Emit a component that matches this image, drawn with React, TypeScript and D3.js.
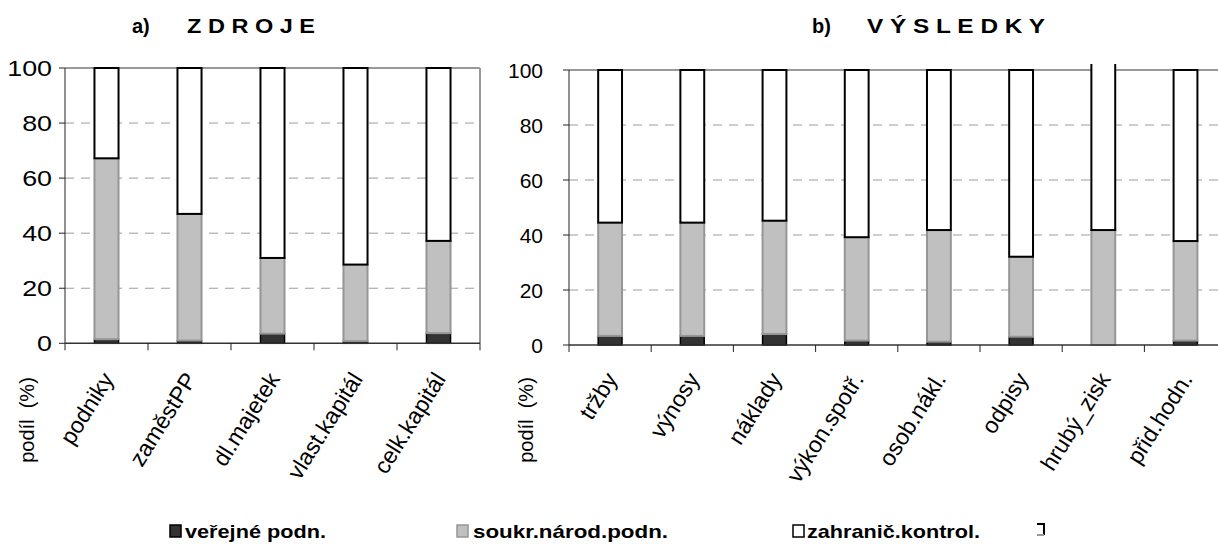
import * as d3 from "d3";
import type { ReactElement } from "react";

const LEFT_CATS = ["podniky", "zaměstPP", "dl.majetek", "vlast.kapitál", "celk.kapitál"];
const LEFT_VEREJNE = [1.5, 1.0, 3.5, 0.8, 3.7];
const LEFT_SOUKR = [65.7, 46.0, 27.5, 27.8, 33.5];
const LEFT_ZAHRAN = [32.8, 53.0, 69.0, 71.4, 62.8];

const RIGHT_CATS = ["tržby", "výnosy", "náklady", "výkon.spotř.", "osob.nákl.", "odpisy", "hrubý_zisk", "přid.hodn."];
const RIGHT_VEREJNE = [3.3, 3.3, 4.0, 1.6, 1.2, 3.0, 0, 1.6];
const RIGHT_SOUKR = [41.2, 41.2, 41.2, 37.6, 40.6, 29.1, 41.8, 36.2];
const RIGHT_ZAHRAN = [55.5, 55.5, 54.8, 60.8, 58.2, 67.9, 64.0, 62.2];

const Y_TICKS = [0, 20, 40, 60, 80, 100];
const SERIES_NAMES = ["veřejné podn.", "soukr.národ.podn.", "zahranič.kontrol."];

const FONT = "'Liberation Sans', Arial, sans-serif";
const SERIES_STYLE = [
  { fill: "#333333", stroke: "#000000", sw: 1.5 },
  { fill: "#c0c0c0", stroke: "#969696", sw: 2 },
  { fill: "#ffffff", stroke: "#000000", sw: 2 },
];

type PanelProps = {
  id: string;
  cats: string[];
  series: number[][];
  left: number;
  step: number;
  top: number;
  bottom: number;
  labelRight: number;
  labelSx: number;
  labelSize: number;
  yTitleX: number;
  rightBorder: boolean;
};

const Panel = (p: PanelProps): ReactElement => {
  const n = p.cats.length;
  const x = d3
    .scaleBand<string>()
    .domain(p.cats)
    .range([p.left, p.left + n * p.step])
    .paddingInner(0.71)
    .paddingOuter(0.355);
  const y = d3.scaleLinear().domain([0, 100]).range([p.bottom, p.top]);
  const right = p.left + n * p.step;

  const rows = p.cats.map((c, i) => {
    const o: Record<string, number | string> = { cat: c };
    p.series.forEach((s, k) => (o[`s${k}`] = s[i]));
    return o;
  });
  const stacked = d3
    .stack<Record<string, number | string>>()
    .keys(p.series.map((_, k) => `s${k}`))
    .value((d, key) => d[key] as number)(rows);

  // plot area reaches a little above the 100 line; taller bars are cut there
  const clipTop = y(100) - 6;

  return (
    <g>
      <defs>
        <clipPath id={`clip-${p.id}`}>
          <rect x={p.left} y={clipTop} width={right - p.left + 10} height={y(0) - clipTop + 4} />
        </clipPath>
      </defs>
      {/* grid */}
      {Y_TICKS.filter((t) => t > 0 && t < 100).map((t) => (
        <line key={t} x1={p.left} x2={right} y1={y(t)} y2={y(t)} stroke="#9c9c9c" strokeWidth={1} strokeDasharray="9 7" />
      ))}
      <line x1={p.left} x2={right} y1={y(100)} y2={y(100)} stroke="#999" strokeWidth={2} />
      {p.rightBorder && <line x1={right} x2={right} y1={y(100)} y2={y(0)} stroke="#999" strokeWidth={2} />}

      {/* bars */}
      <g clipPath={`url(#clip-${p.id})`}>
        {stacked.map((layer, k) => (
          <g key={k}>
            {layer.map((d, i) => {
              const h = y(d[0]) - y(d[1]);
              if (h <= 0) return null;
              const st = SERIES_STYLE[k];
              return (
                <rect
                  key={i}
                  x={x(p.cats[i])}
                  y={y(d[1])}
                  width={x.bandwidth()}
                  height={h}
                  fill={st.fill}
                  stroke={st.stroke}
                  strokeWidth={st.sw}
                />
              );
            })}
          </g>
        ))}
      </g>

      {/* axes */}
      <line x1={p.left} x2={p.left} y1={y(100)} y2={y(0)} stroke="#222" strokeWidth={1} />
      <line x1={p.left} x2={right} y1={y(0)} y2={y(0)} stroke="#333" strokeWidth={1.5} />
      {Y_TICKS.map((t) => (
        <g key={t}>
          <line x1={p.left - 6} x2={p.left} y1={y(t)} y2={y(t)} stroke="#222" strokeWidth={1} />
          <text
            transform={`translate(${p.labelRight},${y(t)}) scale(${p.labelSx},1)`}
            dy="0.36em"
            textAnchor="end"
            fontSize={p.labelSize}
            fontFamily={FONT}
            fill="#000"
          >
            {t}
          </text>
        </g>
      ))}
      {d3.range(n + 1).map((i) => (
        <line key={i} x1={p.left + i * p.step} x2={p.left + i * p.step} y1={y(0)} y2={y(0) + 7} stroke="#222" strokeWidth={1} />
      ))}
      {p.cats.map((c) => (
        <text
          key={c}
          transform={`translate(${(x(c) ?? 0) + x.bandwidth() / 2 + 8},379) rotate(-58)`}
          textAnchor="end"
          fontSize={23}
          fontFamily={FONT}
          fill="#000"
        >
          {c}
        </text>
      ))}
      <text
        transform={`translate(${p.yTitleX},420) rotate(-90)`}
        textAnchor="middle"
        fontSize={20}
        fontFamily={FONT}
        fill="#000"
        style={{ whiteSpace: "pre" }}
      >
        {"podíl  (%)"}
      </text>
    </g>
  );
};

const LEGEND_POS = [
  { sq: 170, tx: 185, tw: 141 },
  { sq: 457, tx: 473, tw: 195 },
  { sq: 793, tx: 807, tw: 173 },
];

export default function App(): ReactElement {
  return (
    <svg width={1218} height={544} style={{ position: "absolute", left: 0, top: 0, background: "#fff" }}>
      <rect width={1218} height={544} fill="#fff" />
      <g fontFamily={FONT} fontWeight="bold" fontSize={20} fill="#000">
        <text x={132} y={33}>a)</text>
        <text x={187} y={33} textLength={128} lengthAdjust="spacingAndGlyphs">Z D R O J E</text>
        <text x={812} y={33}>b)</text>
        <text x={867} y={33} textLength={178} lengthAdjust="spacingAndGlyphs">V Ý S L E D K Y</text>
      </g>

      <Panel
        id="a"
        cats={LEFT_CATS}
        series={[LEFT_VEREJNE, LEFT_SOUKR, LEFT_ZAHRAN]}
        left={65}
        step={83}
        top={68}
        bottom={343.3}
        labelRight={52}
        labelSx={1.22}
        labelSize={22}
        yTitleX={34}
        rightBorder={true}
      />
      <Panel
        id="b"
        cats={RIGHT_CATS}
        series={[RIGHT_VEREJNE, RIGHT_SOUKR, RIGHT_ZAHRAN]}
        left={569}
        step={82.2}
        top={70}
        bottom={345}
        labelRight={543}
        labelSx={1}
        labelSize={21}
        yTitleX={533}
        rightBorder={false}
      />

      {/* legend */}
      {SERIES_NAMES.map((name, k) => {
        const lp = LEGEND_POS[k];
        const st = SERIES_STYLE[k];
        return (
          <g key={name}>
            <rect x={lp.sq} y={525} width={11} height={12} fill={st.fill} stroke={k === 1 ? "#969696" : "#000"} strokeWidth={1.5} />
            <text
              x={lp.tx}
              y={538}
              fontFamily={FONT}
              fontWeight="bold"
              fontSize={19}
              textLength={lp.tw}
              lengthAdjust="spacingAndGlyphs"
            >
              {name}
            </text>
          </g>
        );
      })}
      <path d="M1037,524 H1044 V535" fill="none" stroke="#000" strokeWidth={2} />
      <line x1={1037} x2={1044} y1={535} y2={535} stroke="#999" strokeWidth={2} />
    </svg>
  );
}
